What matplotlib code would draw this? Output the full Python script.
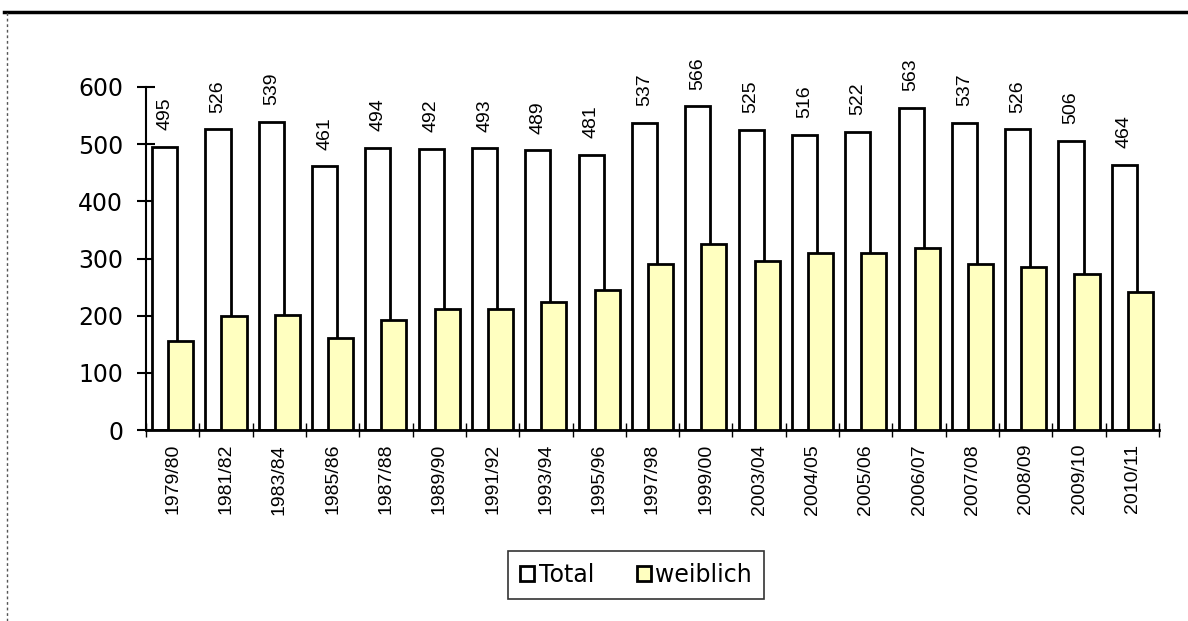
import numpy as np
import matplotlib
matplotlib.use("Agg")
import matplotlib.pyplot as plt
from matplotlib.lines import Line2D

years = ["1979/80", "1981/82", "1983/84", "1985/86", "1987/88", "1989/90", "1991/92",
         "1993/94", "1995/96", "1997/98", "1999/00", "2003/04", "2004/05", "2005/06",
         "2006/07", "2007/08", "2008/09", "2009/10", "2010/11"]
total = [495, 526, 539, 461, 494, 492, 493, 489, 481, 537, 566, 525, 516, 522, 563, 537, 526, 506, 464]
weiblich = [155, 199, 201, 161, 192, 211, 211, 224, 245, 291, 325, 296, 310, 310, 318, 291, 285, 273, 242]

fig = plt.figure(figsize=(11.88, 6.21), dpi=100)
ax = fig.add_axes([146 / 1188, 1 - 430 / 621, (1159 - 146) / 1188, (430 - 87) / 621])

x = np.arange(len(years))
w = 0.47
ax.bar(x - 0.15, total, w, color="white", edgecolor="black", linewidth=2, label="Total", zorder=2)
ax.bar(x + 0.15, weiblich, w, color="#FFFFC0", edgecolor="black", linewidth=2, label="weiblich", zorder=3)

for xi, v in zip(x, total):
    ax.annotate(str(v), (xi - 0.15, v), xytext=(0, 12), textcoords="offset points",
                rotation=90, ha="center", va="bottom", fontsize=14,
                family="Liberation Sans", annotation_clip=False)

ax.set_xlim(-0.5, len(years) - 0.5)
ax.set_ylim(0, 600)
ax.set_yticks(range(0, 601, 100))
ax.tick_params(axis="y", direction="inout", length=13, width=1.5, labelsize=17, pad=10)
ax.set_xticks(np.arange(-0.5, len(years), 1.0))
ax.set_xticklabels([])
ax.set_xticks(x, minor=True)
ax.set_xticklabels(years, minor=True, rotation=90, fontsize=14, family="Liberation Sans")
ax.tick_params(axis="x", which="major", direction="inout", length=10, width=1)
ax.tick_params(axis="x", which="minor", length=0, pad=10)
for lab in ax.get_xticklabels(minor=True):
    lab.set_va("top")

for s in ["top", "right"]:
    ax.spines[s].set_visible(False)
ax.spines["left"].set_linewidth(1.5)
ax.spines["bottom"].set_linewidth(2)

handles = [plt.Rectangle((0, 0), 1, 1, facecolor="white", edgecolor="black", linewidth=2),
           plt.Rectangle((0, 0), 1, 1, facecolor="#FFFFC0", edgecolor="black", linewidth=2)]
leg = fig.legend(handles, ["Total", "weiblich"], loc="center", bbox_to_anchor=(636 / 1188, 1 - 575 / 621),
                 ncol=2, fontsize=17, frameon=True, fancybox=False, handlelength=0.6, handleheight=0.6,
                 handletextpad=0.2, columnspacing=1.8, borderpad=0.5, borderaxespad=0,
                 edgecolor="black")
leg.get_frame().set_linewidth(1.2)

# chart area border (top thick, left dotted)
fig.add_artist(Line2D([4 / 1188, 1], [1 - 12 / 621] * 2, color="black", linewidth=2.5, transform=fig.transFigure))
fig.add_artist(Line2D([7 / 1188] * 2, [0, 1 - 12 / 621], color="#555555", linewidth=1, linestyle=(0, (2, 2)),
                      transform=fig.transFigure))

fig.savefig("out.png", dpi=100)
